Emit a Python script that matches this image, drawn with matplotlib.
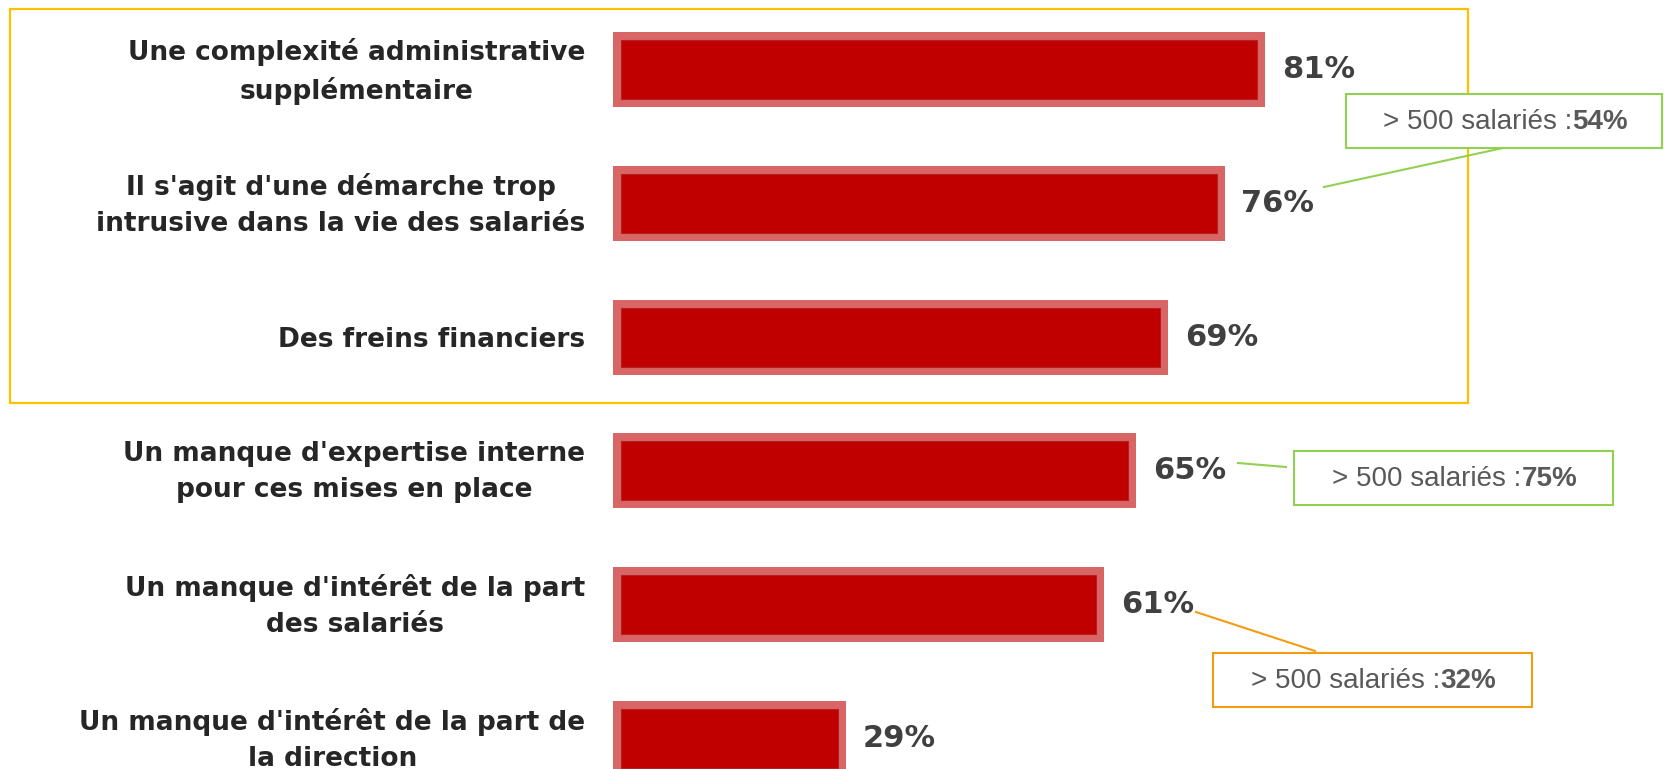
import matplotlib
matplotlib.use('Agg')
import matplotlib.pyplot as plt
import matplotlib.transforms as mtransforms
from matplotlib.patches import Rectangle
from matplotlib.lines import Line2D

# données
categories = ["Une complexité administrative\nsupplémentaire",
              "Il s'agit d'une démarche trop\nintrusive dans la vie des salariés",
              "Des freins financiers",
              "Un manque d'expertise interne\npour ces mises en place",
              "Un manque d'intérêt de la part\ndes salariés",
              "Un manque d'intérêt de la part de\nla direction"]
values = [81, 76, 69, 65, 61, 29]

# encadrés "> 500 salariés"
callout_rows = [1, 3, 4]
callout_values = [54, 75, 32]
callout_colors = ['#92D050', '#92D050', '#F39C12']

# mise en page (pixels)
W, H = 1664, 769
x0 = 613            # début des barres
px_per_pct = 8.05
row_px = 133.75
first_row = 69.5
border_px = 8
boxes_px = [(1346, 94, 1662, 148), (1294, 451, 1613, 505), (1213, 653, 1532, 707)]
links_px = [((1503, 148), (1324, 187)), ((1238, 463), (1286, 467)), ((1196, 612), (1315, 651))]


def fx(x):
    return x / W


def fy(y):
    return 1 - y / H


fig = plt.figure(figsize=(W / 100, H / 100), dpi=100)
ax = fig.add_axes([x0 / W, 0, 1 - x0 / W, 1])
ax.set_xlim(0, (W - x0) / px_per_pct)
ax.set_ylim((H - first_row) / row_px, -first_row / row_px)

ypos = list(range(len(values)))
bar_h = 75 / row_px
bx = border_px / px_per_pct
by = border_px / row_px
# contour rose puis remplissage rouge
ax.barh(ypos, values, height=bar_h, color='#D96666', linewidth=0)
ax.barh(ypos, [v - 2 * bx for v in values], left=bx, height=bar_h - 2 * by,
        color='#C00000', edgecolor='#B52020', linewidth=0.8)

for i, v in zip(ypos, values):
    ax.annotate(f'{v}%', xy=(v, i), xytext=(12, 0), textcoords='offset points',
                ha='left', va='center', fontsize=22, fontweight='bold', color='#404040')

ax.set_yticks(ypos)
ax.set_yticklabels(categories, fontsize=19, fontweight='bold', color='#262626')
ax.tick_params(axis='y', length=0, pad=20)
for lbl in ax.get_yticklabels():
    lbl.set_multialignment('center')
    lbl.set_linespacing(1.5)
    if '\n' in lbl.get_text():
        # remonter un peu les libellés sur deux lignes
        lbl.set_transform(lbl.get_transform() +
                          mtransforms.ScaledTranslation(0, 6.5 / 100, fig.dpi_scale_trans))
ax.set_xticks([])
for s in ax.spines.values():
    s.set_visible(False)

# cadre jaune autour des 3 premiers freins
fig.add_artist(Rectangle((fx(10), fy(403)), (1468 - 10) / W, (403 - 9) / H,
                         transform=fig.transFigure, fill=False,
                         edgecolor='#FFC000', linewidth=1.6))

# encadrés
for (l, t, r, b), (p1, p2), val, col in zip(boxes_px, links_px, callout_values, callout_colors):
    fig.add_artist(Rectangle((fx(l), fy(b)), (r - l) / W, (b - t) / H,
                             transform=fig.transFigure, facecolor='white',
                             edgecolor=col, linewidth=1.5))
    fig.add_artist(Line2D([fx(p1[0]), fx(p2[0])], [fy(p1[1]), fy(p2[1])],
                          transform=fig.transFigure, color=col, linewidth=1.5))
    split = (l + r) / 2 + 68
    yc = fy((t + b) / 2 + 1)
    fig.text(fx(split), yc, '> 500 salariés :', ha='right', va='center',
             fontsize=20, family='Liberation Sans', color='#595959')
    fig.text(fx(split), yc, f'{val}%', ha='left', va='center',
             fontsize=20, family='Liberation Sans', fontweight='bold', color='#595959')

fig.savefig('out.png', dpi=100)
